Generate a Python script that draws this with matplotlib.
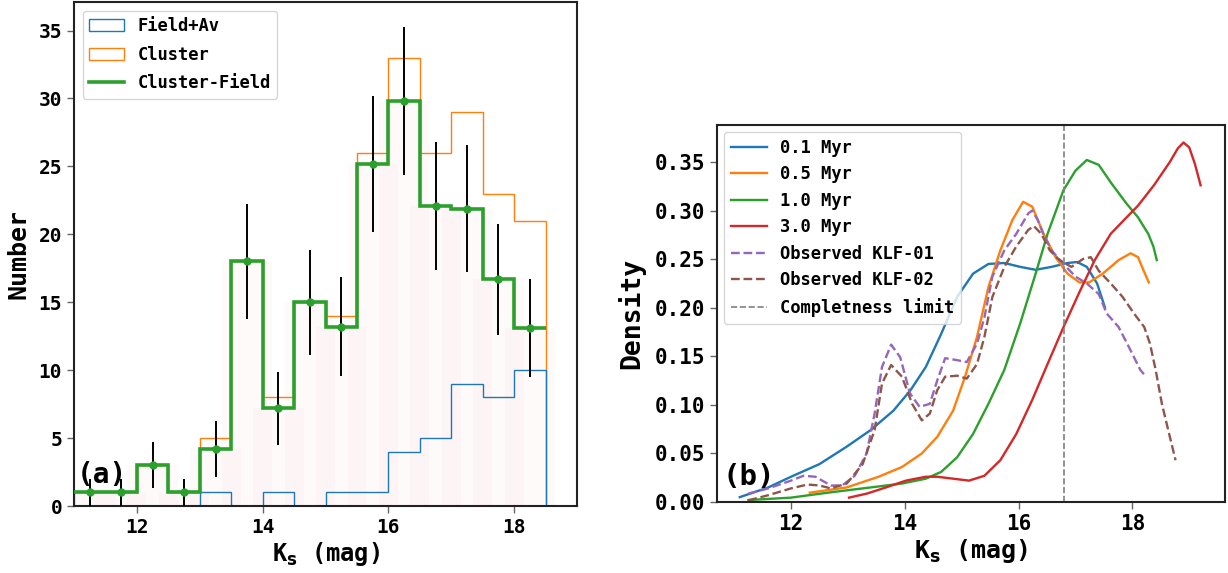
import numpy as np
import matplotlib
matplotlib.use("Agg")
import matplotlib.pyplot as plt
from matplotlib.lines import Line2D

plt.rcParams['font.family'] = ['DejaVu Sans Mono']
plt.rcParams['font.weight'] = 'bold'

# ---------------- Panel (a) data ----------------
bin_edges = [11.0, 11.5, 12.0, 12.5, 13.0, 13.5, 14.0, 14.5, 15.0, 15.5,
             16.0, 16.5, 17.0, 17.5, 18.0, 18.5]
bin_centers = [11.25, 11.75, 12.25, 12.75, 13.25, 13.75, 14.25, 14.75, 15.25,
               15.75, 16.25, 16.75, 17.25, 17.75, 18.25]
field_av = [0, 0, 0, 0, 1, 0, 1, 0, 1, 1, 4, 5, 9, 8, 10]
cluster = [1, 1, 3, 1, 5, 18, 8, 15, 14, 26, 33, 26, 29, 23, 21]
cluster_field = [1, 1, 3, 1, 4.2, 18, 7.2, 15, 13.2, 25.2, 29.8, 22.1, 21.9, 16.7, 13.1]
cf_err = [1.0, 1.0, 1.7, 1.0, 2.05, 4.24, 2.7, 3.87, 3.63, 5.0, 5.46, 4.7, 4.68, 4.09, 3.62]

# ---------------- Panel (b) data ----------------
m01_x = [11.1, 11.6, 12.0, 12.5, 12.98, 13.4, 13.8, 14.1, 14.37, 14.64, 14.92, 15.2,
         15.47, 15.75, 16.03, 16.3, 16.58, 16.86, 17.03, 17.2, 17.38, 17.52]
m01_y = [0.005, 0.015, 0.026, 0.039, 0.057, 0.074, 0.094, 0.115, 0.139, 0.173, 0.211, 0.235,
         0.245, 0.246, 0.242, 0.239, 0.242, 0.246, 0.247, 0.242, 0.225, 0.20]

m05_x = [12.33, 12.98, 13.54, 13.95, 14.3, 14.57, 14.85, 15.06, 15.27, 15.47, 15.68, 15.89,
         16.08, 16.24, 16.44, 16.65, 16.86, 17.07, 17.24, 17.48, 17.76, 17.97, 18.1, 18.2, 18.29]
m05_y = [0.0096, 0.015, 0.026, 0.036, 0.05, 0.067, 0.094, 0.129, 0.17, 0.221, 0.259, 0.29,
         0.309, 0.304, 0.276, 0.252, 0.235, 0.226, 0.226, 0.235, 0.249, 0.256, 0.252, 0.238, 0.226]

m10_x = [11.25, 12.0, 12.7, 13.4, 13.95, 14.37, 14.64, 14.92, 15.2, 15.47, 15.75, 16.03,
         16.3, 16.51, 16.79, 17.0, 17.2, 17.41, 17.62, 17.9, 18.1, 18.28, 18.37, 18.43]
m10_y = [0.002, 0.0045, 0.01, 0.015, 0.019, 0.024, 0.031, 0.046, 0.07, 0.101, 0.136, 0.184,
         0.235, 0.276, 0.321, 0.341, 0.352, 0.347, 0.329, 0.307, 0.293, 0.276, 0.263, 0.249]

m30_x = [13.02, 13.33, 13.67, 14.02, 14.37, 14.57, 14.85, 15.13, 15.4, 15.68, 15.96, 16.24,
         16.51, 16.79, 17.07, 17.34, 17.62, 17.9, 18.1, 18.38, 18.66, 18.8, 18.9, 19.0, 19.1, 19.2]
m30_y = [0.0045, 0.0086, 0.015, 0.022, 0.026, 0.026, 0.024, 0.022, 0.027, 0.043, 0.070, 0.105,
         0.142, 0.18, 0.216, 0.249, 0.276, 0.293, 0.305, 0.326, 0.35, 0.364, 0.37, 0.365, 0.348, 0.326]

klf01_x = [11.25, 11.6, 12.0, 12.22, 12.43, 12.7, 12.9, 13.12, 13.33, 13.47, 13.6, 13.76,
           13.92, 14.09, 14.26, 14.44, 14.57, 14.71, 14.92, 15.09, 15.27, 15.4, 15.54, 15.75,
           15.96, 16.17, 16.24, 16.34, 16.44, 16.58, 16.79, 17.0, 17.2, 17.41, 17.55, 17.76,
           17.97, 18.14, 18.24]
klf01_y = [0.0086, 0.014, 0.022, 0.027, 0.026, 0.017, 0.017, 0.027, 0.05, 0.091, 0.139, 0.162,
           0.149, 0.112, 0.098, 0.101, 0.125, 0.148, 0.146, 0.144, 0.163, 0.19, 0.232, 0.259,
           0.276, 0.297, 0.300, 0.29, 0.275, 0.259, 0.245, 0.232, 0.225, 0.214, 0.194, 0.18,
           0.156, 0.136, 0.129]

klf02_x = [11.25, 11.6, 12.0, 12.29, 12.5, 12.7, 12.98, 13.26, 13.47, 13.6, 13.76, 13.95,
           14.13, 14.3, 14.44, 14.57, 14.71, 14.92, 15.09, 15.27, 15.4, 15.54, 15.75, 15.96,
           16.17, 16.27, 16.4, 16.55, 16.72, 16.93, 17.13, 17.27, 17.41, 17.62, 17.83, 18.03,
           18.21, 18.31, 18.41, 18.52, 18.66, 18.76]
klf02_y = [0.0017, 0.007, 0.014, 0.018, 0.017, 0.014, 0.019, 0.039, 0.074, 0.122, 0.141, 0.129,
           0.101, 0.084, 0.091, 0.115, 0.129, 0.13, 0.127, 0.142, 0.17, 0.211, 0.242, 0.263,
           0.28, 0.284, 0.276, 0.259, 0.249, 0.242, 0.25, 0.252, 0.238, 0.225, 0.211, 0.194,
           0.18, 0.163, 0.136, 0.101, 0.067, 0.043]

completeness = 16.8

fig = plt.figure(figsize=(12.28, 5.73), dpi=100)
ax1 = fig.add_axes([0.0603, 0.1169, 0.4096, 0.8796])
ax2 = fig.add_axes([0.5839, 0.1239, 0.4137, 0.6579])

spine_col = '#222222'
for ax in (ax1, ax2):
    for s in ax.spines.values():
        s.set_linewidth(1.5)
        s.set_color(spine_col)

# ---------------- Panel (a) ----------------
ax1.bar(bin_centers, cluster_field, width=0.8, color='#d62728', alpha=0.018,
        linewidth=0, zorder=0)
_, _, pb = ax1.hist(bin_centers, bins=bin_edges, weights=field_av, histtype='step',
                    color='C0', lw=1.0, zorder=2)
_, _, po = ax1.hist(bin_centers, bins=bin_edges, weights=cluster, histtype='step',
                    color='C1', lw=1.0, zorder=1)
ax1.stairs(cluster_field, bin_edges, baseline=None, color='C2', lw=2.6, zorder=3)
ax1.errorbar(bin_centers, cluster_field, yerr=cf_err, fmt='o', color='C2', ms=5,
             ecolor='black', elinewidth=1.4, zorder=4)
green_proxy = Line2D([], [], color='C2', lw=2.6)
ax1.legend([pb[0], po[0], green_proxy], ['Field+Av', 'Cluster', 'Cluster-Field'],
           loc='upper left', fontsize=12.3, labelspacing=0.6, handlelength=2.0,
           borderaxespad=0.5)
ax1.set_xlim(11, 19)
ax1.set_ylim(0, 37.1)
ax1.set_xticks([12, 14, 16, 18])
ax1.set_yticks([0, 5, 10, 15, 20, 25, 30, 35])
ax1.tick_params(labelsize=14, length=5, width=1, color='#666666')
ax1.set_xlabel(r'K$_{\rm s}$ (mag)', fontsize=17, fontweight='bold', labelpad=2)
ax1.set_ylabel('Number', fontsize=18, fontweight='bold', labelpad=6)
ax1.text(0.005, 0.045, '(a)', transform=ax1.transAxes, fontsize=20,
         fontweight='bold', va='baseline', ha='left')

# ---------------- Panel (b) ----------------
lw = 1.7
ax2.plot(m01_x, m01_y, color='C0', lw=lw, label='0.1 Myr')
ax2.plot(m05_x, m05_y, color='C1', lw=lw, label='0.5 Myr')
ax2.plot(m10_x, m10_y, color='C2', lw=lw, label='1.0 Myr')
ax2.plot(m30_x, m30_y, color='C3', lw=lw, label='3.0 Myr')
ax2.plot(klf01_x, klf01_y, color='C4', lw=lw, ls='--', label='Observed KLF-01')
ax2.plot(klf02_x, klf02_y, color='C5', lw=lw, ls='--', label='Observed KLF-02')
ax2.axvline(completeness, color='gray', lw=1.2, ls='--', label='Completness limit')
ax2.legend(loc='upper left', fontsize=12.3, labelspacing=0.5, handlelength=2.1,
           borderaxespad=0.4)
ax2.set_xlim(10.7, 19.63)
ax2.set_ylim(0, 0.388)
ax2.set_xticks([12, 14, 16, 18])
ax2.set_yticks([0.0, 0.05, 0.10, 0.15, 0.20, 0.25, 0.30, 0.35])
ax2.yaxis.set_major_formatter(matplotlib.ticker.FormatStrFormatter('%.2f'))
ax2.tick_params(labelsize=15, length=5, width=1, color='#666666')
ax2.set_xlabel(r'K$_{\rm s}$ (mag)', fontsize=18, fontweight='bold', labelpad=2)
ax2.set_ylabel('Density', fontsize=19, fontweight='bold', labelpad=7)
ax2.text(0.01, 0.045, '(b)', transform=ax2.transAxes, fontsize=21,
         fontweight='bold', va='baseline', ha='left')

fig.savefig('out.png', dpi=100)
